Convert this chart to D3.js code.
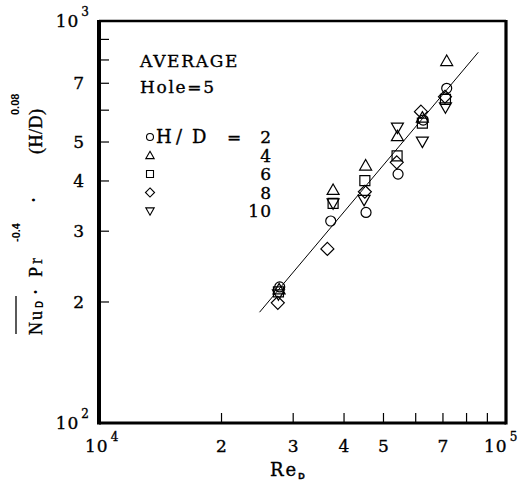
<!DOCTYPE html>
<html>
<head>
<meta charset="utf-8">
<script src="https://cdnjs.cloudflare.com/ajax/libs/d3/7.8.5/d3.min.js"></script>
<style>
  body { margin: 0; background: #fff; }
  text { fill: #000; }
  .ink { stroke: #000; stroke-width: 0.35px; }
</style>
</head>
<body>
<div id="chart"></div>
<script>
// Re_D positions and scaled Nusselt values
var seriesNames = ["2", "4", "6", "8", "10"];
var seriesShapes = ["circle", "triangle", "square", "diamond", "invtriangle"];

var reHD2  = [27800, 37100, 45300, 54300, 62600, 71500];
var nuHD2  = [218, 318, 334, 416, 567, 680];
var reHD4  = [27700, 37600, 45200, 54100, 62300, 71500];
var nuHD4  = [215, 380, 437, 517, 575, 795];
var reHD6  = [27600, 37600, 45000, 54000, 62300, 71000];
var nuHD6  = [212, 352, 401, 462, 557, 638];
var reHD8  = [27500, 36400, 45000, 53900, 61800, 70800];
var nuHD8  = [199, 271, 376, 445, 595, 648];
var reHD10 = [27600, 37600, 44800, 54100, 62300, 71000];
var nuHD10 = [209, 352, 359, 543, 501, 610];

// correlation line end points
var fitRe = [24800, 85500];
var fitNu = [188.6, 836];

var xMinorTicks = [20000, 30000, 40000, 50000, 60000, 70000, 80000, 90000];
var xTickLabels = {20000: "2", 30000: "3", 40000: "4", 50000: "5", 70000: "7"};
var yMinorTicks = [200, 300, 400, 500, 600, 700, 800, 900];
var yTickLabels = {200: "2", 300: "3", 400: "4", 500: "5", 700: "7"};

var W = 530, H = 487;
var svg = d3.select("#chart").append("svg")
  .attr("width", W).attr("height", H);

var x = d3.scaleLog().domain([1e4, 1e5]).range([99, 506]);
var y = d3.scaleLog().domain([100, 1000]).range([423, 21]);

var serif = "'DejaVu Serif', serif";
var sans = "'Liberation Sans', Arial, sans-serif";

// ticks (inward)
svg.append("g").selectAll("line").data(xMinorTicks).enter().append("line")
  .attr("x1", d => x(d)).attr("x2", d => x(d))
  .attr("y1", y(100)).attr("y2", y(100) - 10)
  .attr("stroke", "#000").attr("stroke-width", 1.2);
svg.append("g").selectAll("line").data(yMinorTicks).enter().append("line")
  .attr("y1", d => y(d)).attr("y2", d => y(d))
  .attr("x1", x(1e4)).attr("x2", x(1e4) + 10)
  .attr("stroke", "#000").attr("stroke-width", 1.2);

// frame
svg.append("line").attr("x1", x(1e4)).attr("x2", x(1e5)).attr("y1", y(1000)).attr("y2", y(1000))
  .attr("stroke", "#000").attr("stroke-width", 2.5);
svg.append("line").attr("x1", x(1e4)).attr("x2", x(1e5)).attr("y1", y(100)).attr("y2", y(100))
  .attr("stroke", "#000").attr("stroke-width", 3.2);
svg.append("line").attr("x1", x(1e4)).attr("x2", x(1e4)).attr("y1", y(1000) - 1).attr("y2", y(100) + 1.5)
  .attr("stroke", "#000").attr("stroke-width", 4);
svg.append("line").attr("x1", x(1e5)).attr("x2", x(1e5)).attr("y1", y(1000) - 1).attr("y2", y(100) + 1.5)
  .attr("stroke", "#000").attr("stroke-width", 3.2);

// tick labels
svg.append("g").selectAll("text").data(Object.keys(xTickLabels)).enter().append("text")
  .attr("class", "ink")
  .attr("x", d => x(+d)).attr("y", 452)
  .attr("text-anchor", "middle")
  .style("font-family", serif).style("font-size", "17px")
  .text(d => xTickLabels[d]);
svg.append("g").selectAll("text").data(Object.keys(yTickLabels)).enter().append("text")
  .attr("class", "ink")
  .attr("x", 84).attr("y", d => y(+d) + 6)
  .attr("text-anchor", "end")
  .style("font-family", serif).style("font-size", "17px")
  .text(d => yTickLabels[d]);

function powerLabel(px, py, anchor, exp) {
  var t = svg.append("text").attr("class", "ink").attr("x", px).attr("y", py)
    .attr("text-anchor", anchor)
    .style("font-family", serif).style("font-size", "17px");
  t.append("tspan").text("10").style("letter-spacing", "1px");
  t.append("tspan").attr("dx", 2).attr("dy", -11).style("font-size", "12px").text(exp);
}
powerLabel(x(1e4) - 14, 452, "start", "4");
powerLabel(x(1e5) - 22, 452, "start", "5");
powerLabel(89, y(100) + 6, "end", "2");
powerLabel(89, y(1000) + 6, "end", "3");

// axis titles
var xl = svg.append("text").attr("class", "ink").attr("x", 270).attr("y", 476)
  .style("font-family", serif).style("font-size", "18px").style("letter-spacing", "2px");
xl.append("tspan").text("Re");
xl.append("tspan").attr("dx", 0).attr("dy", 3).style("font-size", "9px")
  .style("font-family", sans).style("font-weight", "bold").style("letter-spacing", "0px").text("D");

function rotText(bx, sy, txt, font, size, weight) {
  return svg.append("text")
    .attr("transform", "translate(" + bx + "," + sy + ") rotate(-90)")
    .style("font-family", font).style("font-size", size + "px")
    .style("font-weight", weight || "normal")
    .text(txt);
}
var ySerif = "'Liberation Serif', 'Times New Roman', serif";
rotText(42, 335, "N", ySerif, 18).attr("class", "ink");
rotText(42, 320, "u", ySerif, 18).attr("class", "ink");
rotText(43, 308, "D", sans, 10, "bold");
rotText(42, 295, "·", ySerif, 18, "bold");
rotText(42, 277, "Pr", ySerif, 18).attr("class", "ink").style("letter-spacing", "3px");
rotText(20, 242, "-0.4", sans, 11, "bold");
rotText(40, 203, "·", ySerif, 18, "bold");
rotText(42, 154, "(H/D)", ySerif, 18).attr("class", "ink").style("letter-spacing", "0.5px");
rotText(19, 115, "0.08", sans, 11, "bold");
svg.append("line").attr("x1", 16).attr("x2", 16).attr("y1", 296).attr("y2", 334)
  .attr("stroke", "#000").attr("stroke-width", 1.3);

// correlation line
svg.append("path")
  .datum(fitRe.map((r, i) => [r, fitNu[i]]))
  .attr("d", d3.line().x(d => x(d[0])).y(d => y(d[1])))
  .attr("fill", "none").attr("stroke", "#000").attr("stroke-width", 1);

// marker shapes
function shapePath(shape, s) {
  var p = d3.path();
  if (shape === "circle") {
    p.arc(0, 0, 5 * s, 0, 2 * Math.PI);
  } else if (shape === "triangle") {
    p.moveTo(0, -6 * s); p.lineTo(6 * s, 4.5 * s); p.lineTo(-6 * s, 4.5 * s); p.closePath();
  } else if (shape === "invtriangle") {
    p.moveTo(0, 6 * s); p.lineTo(6 * s, -4.5 * s); p.lineTo(-6 * s, -4.5 * s); p.closePath();
  } else if (shape === "square") {
    p.rect(-5 * s, -5 * s, 10 * s, 10 * s);
  } else if (shape === "diamond") {
    p.moveTo(0, -6.5 * s); p.lineTo(6.5 * s, 0); p.lineTo(0, 6.5 * s); p.lineTo(-6.5 * s, 0); p.closePath();
  }
  return p.toString();
}

var seriesRe = [reHD2, reHD4, reHD6, reHD8, reHD10];
var seriesNu = [nuHD2, nuHD4, nuHD6, nuHD8, nuHD10];

seriesNames.forEach(function(name, k) {
  var pts = seriesRe[k].map((r, i) => [r, seriesNu[k][i]]);
  svg.append("g").selectAll("path").data(pts).enter().append("path")
    .attr("transform", d => "translate(" + x(d[0]) + "," + y(d[1]) + ")")
    .attr("d", shapePath(seriesShapes[k], 1))
    .attr("fill", "none").attr("stroke", "#000").attr("stroke-width", 1.2);
});

// legend
var legFont = { "font-family": serif, "font-size": "17px", "letter-spacing": "1.7px" };
function styled(sel) {
  Object.keys(legFont).forEach(k => sel.style(k, legFont[k]));
  return sel.attr("class", "ink");
}
styled(svg.append("text").attr("x", 140).attr("y", 67)).text("AVERAGE");
styled(svg.append("text").attr("x", 140).attr("y", 93)).text("Hole=5");

var leg = svg.append("g").selectAll("g").data(seriesNames).enter().append("g")
  .attr("transform", (d, i) => "translate(0," + (143 + i * 18.5) + ")");
leg.append("path")
  .attr("transform", "translate(150,-6)")
  .attr("d", (d, i) => shapePath(seriesShapes[i], 0.7))
  .attr("fill", "none").attr("stroke", "#000").attr("stroke-width", 1.1);
styled(leg.append("text")).attr("x", 272).attr("y", 0).attr("text-anchor", "end")
  .style("letter-spacing", "1px")
  .text(d => d);
var hd = leg.filter((d, i) => i === 0);
styled(hd.append("text").attr("x", 156).attr("y", 0)).style("letter-spacing", "0px").style("font-size", "18px").text("H");
styled(hd.append("text").attr("x", 176).attr("y", 0)).style("letter-spacing", "0px").style("font-size", "18px").text("/");
styled(hd.append("text").attr("x", 192).attr("y", 0)).style("letter-spacing", "0px").style("font-size", "18px").text("D");
styled(hd.append("text").attr("x", 227).attr("y", 0)).style("letter-spacing", "0px").text("=");
</script>
</body>
</html>
